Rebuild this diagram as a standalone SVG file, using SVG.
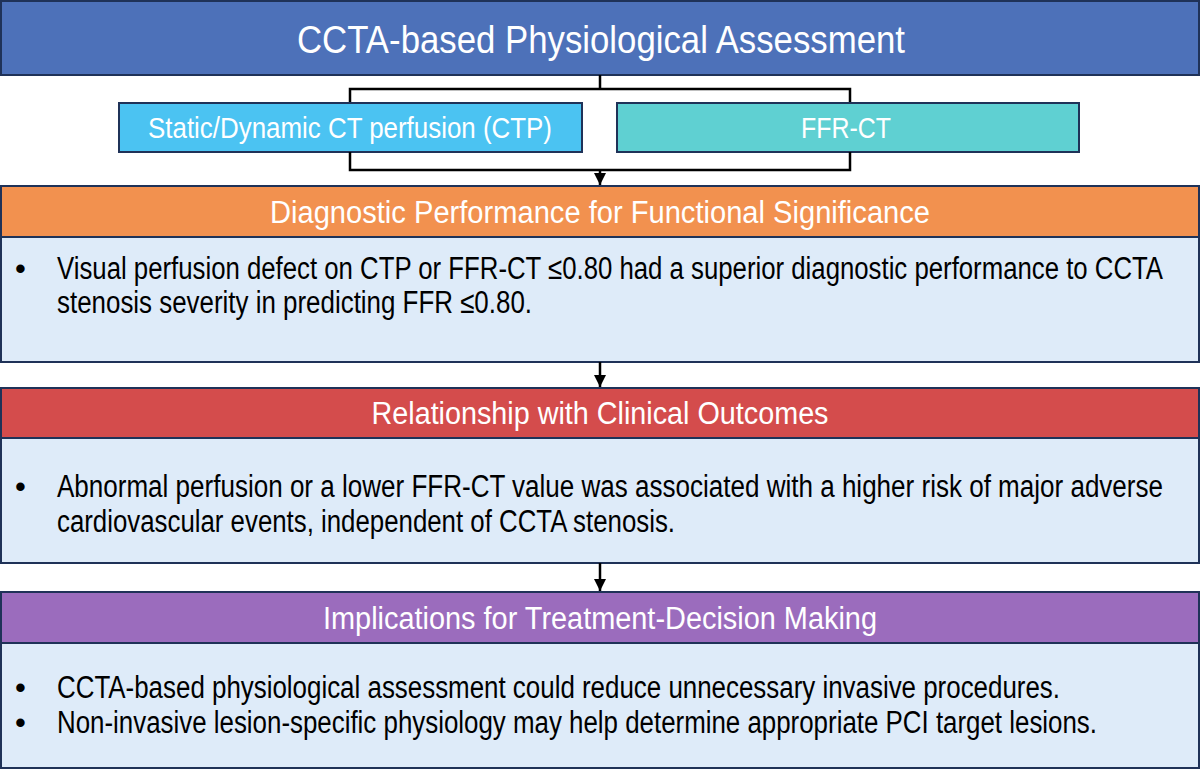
<svg xmlns="http://www.w3.org/2000/svg" width="1200" height="769" viewBox="0 0 1200 769">
<defs>
<marker id="ah" viewBox="0 0 10 10" refX="10" refY="5" markerWidth="5" markerHeight="5" markerUnits="strokeWidth" orient="auto">
<path d="M0,0 L10,5 L0,10 z" fill="#000"/>
</marker>
<style>
.box{stroke:#1f3258;stroke-width:2}
.body{fill:#deebf9}
.hd{font-family:"Liberation Sans Narrow","Arial Narrow","Liberation Sans",sans-serif;fill:#fff;text-anchor:middle;dominant-baseline:central}
.tx{font-family:"Liberation Sans Narrow","Arial Narrow","Liberation Sans",sans-serif;fill:#000;font-size:31px}
.cn{fill:none;stroke:#000;stroke-width:2.5}
</style>
</defs>
<g id="title">
<rect class="box" x="1" y="1" width="1198" height="74" fill="#4d71b9"/>
<text class="hd" x="601" y="40" font-size="38" textLength="608" lengthAdjust="spacingAndGlyphs">CCTA-based Physiological Assessment</text>
</g>
<g id="ctp">
<rect class="box" x="119" y="103" width="463" height="49" fill="#4bc3f2"/>
<text class="hd" x="350" y="128" font-size="29" textLength="404" lengthAdjust="spacingAndGlyphs">Static/Dynamic CT perfusion (CTP)</text>
</g>
<g id="ffrct">
<rect class="box" x="617" y="103" width="462" height="49" fill="#5fd0d2"/>
<text class="hd" x="846" y="128" font-size="29" textLength="90" lengthAdjust="spacingAndGlyphs">FFR-CT</text>
</g>
<g id="diag">
<rect class="box" x="1" y="186" width="1198" height="51" fill="#f2914f"/>
<rect class="box body" x="1" y="237" width="1198" height="125"/>
<text class="hd" x="600" y="212" font-size="31" textLength="660" lengthAdjust="spacingAndGlyphs">Diagnostic Performance for Functional Significance</text>
<text class="tx" x="15" y="279">•</text>
<text class="tx" x="57" y="279" textLength="1106" lengthAdjust="spacingAndGlyphs">Visual perfusion defect on CTP or FFR-CT ≤0.80 had a superior diagnostic performance to CCTA</text>
<text class="tx" x="57" y="313" textLength="475" lengthAdjust="spacingAndGlyphs">stenosis severity in predicting FFR ≤0.80.</text>
</g>
<g id="outcomes">
<rect class="box" x="1" y="388" width="1198" height="50" fill="#d44c4c"/>
<rect class="box body" x="1" y="438" width="1198" height="125"/>
<text class="hd" x="600" y="413" font-size="31" textLength="457" lengthAdjust="spacingAndGlyphs">Relationship with Clinical Outcomes</text>
<text class="tx" x="15" y="497">•</text>
<text class="tx" x="57" y="497" textLength="1106" lengthAdjust="spacingAndGlyphs">Abnormal perfusion or a lower FFR-CT value was associated with a higher risk of major adverse</text>
<text class="tx" x="57" y="532" textLength="618" lengthAdjust="spacingAndGlyphs">cardiovascular events, independent of CCTA stenosis.</text>
</g>
<g id="implications">
<rect class="box" x="1" y="592" width="1198" height="51" fill="#9b6cbd"/>
<rect class="box body" x="1" y="643" width="1198" height="125"/>
<text class="hd" x="600" y="618" font-size="31" textLength="554" lengthAdjust="spacingAndGlyphs">Implications for Treatment-Decision Making</text>
<text class="tx" x="15" y="698">•</text>
<text class="tx" x="57" y="698" textLength="1003" lengthAdjust="spacingAndGlyphs">CCTA-based physiological assessment could reduce unnecessary invasive procedures.</text>
<text class="tx" x="15" y="733">•</text>
<text class="tx" x="57" y="733" textLength="1040" lengthAdjust="spacingAndGlyphs">Non-invasive lesion-specific physiology may help determine appropriate PCI target lesions.</text>
</g>
<g id="connectors">
<path class="cn" d="M600,75 V89 M350,102 V89 H850 V102"/>
<path class="cn" d="M350,152 V170 H850 V152"/>
<path class="cn" d="M600,170 V185" marker-end="url(#ah)"/>
<path class="cn" d="M600,362 V387" marker-end="url(#ah)"/>
<path class="cn" d="M600,563 V591" marker-end="url(#ah)"/>
</g>
</svg>
